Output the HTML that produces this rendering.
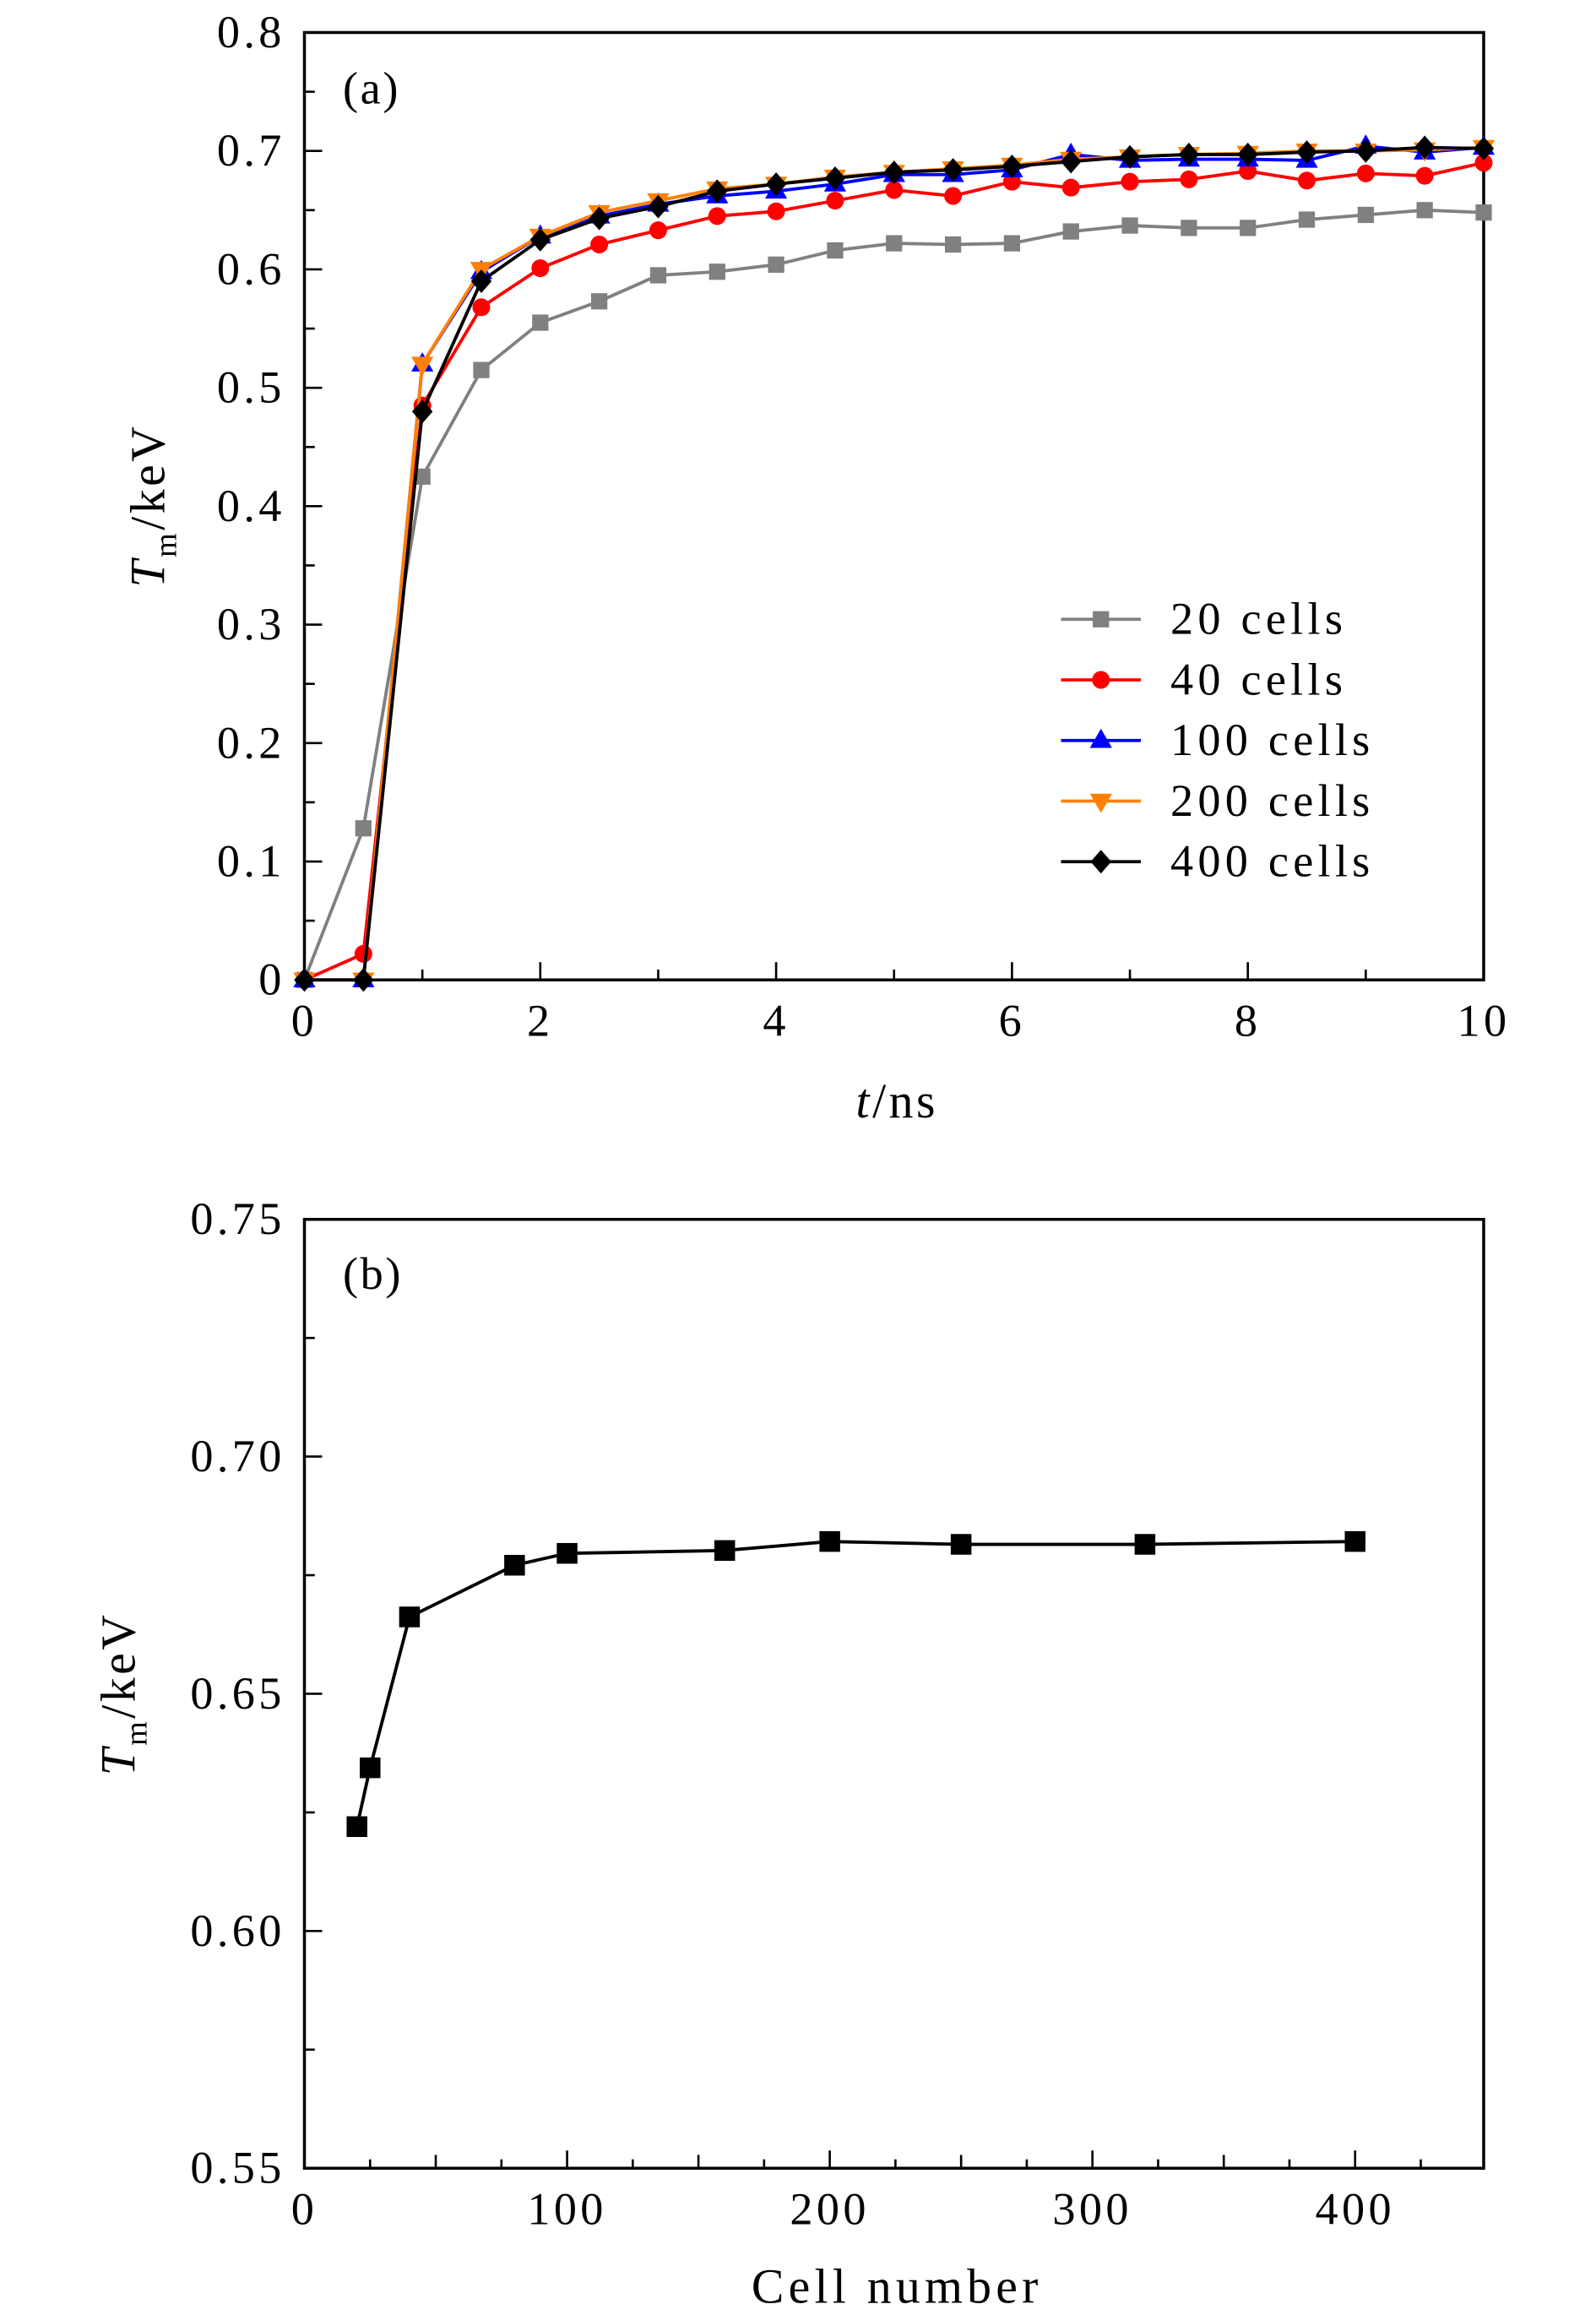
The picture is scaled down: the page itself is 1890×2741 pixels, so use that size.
<!DOCTYPE html>
<html><head><meta charset="utf-8"><style>
html,body{margin:0;padding:0;background:#fff}
svg{display:block}
text{font-family:"Liberation Serif",serif;fill:#000}
</style></head><body>
<svg id="chart" width="1890" height="2741" viewBox="0 0 1080 1566.3" xmlns="http://www.w3.org/2000/svg"></svg>
<script>
// Panel (a) data
const tA = [0,0.5,1,1.5,2,2.5,3,3.5,4,4.5,5,5.5,6,6.5,7,7.5,8,8.5,9,9.5,10];
const s20 = [0,0.128,0.425,0.515,0.555,0.573,0.595,0.598,0.604,0.616,0.622,0.621,0.622,0.632,0.637,0.635,0.635,0.642,0.646,0.650,0.648];
const s40 = [0,0.022,0.485,0.568,0.601,0.621,0.633,0.645,0.649,0.658,0.667,0.662,0.674,0.669,0.674,0.676,0.683,0.675,0.681,0.679,0.690];
const s100 = [0,0,0.52,0.598,0.628,0.645,0.655,0.662,0.666,0.672,0.680,0.680,0.684,0.697,0.692,0.693,0.693,0.692,0.704,0.699,0.703];
const s200 = [0,0,0.52,0.600,0.628,0.648,0.658,0.668,0.672,0.678,0.682,0.685,0.688,0.693,0.695,0.697,0.698,0.700,0.700,0.701,0.703];
const s400 = [0,0,0.48,0.590,0.625,0.643,0.653,0.666,0.672,0.677,0.682,0.684,0.687,0.691,0.695,0.697,0.697,0.699,0.700,0.703,0.702];
const seriesNames = ["20 cells","40 cells","100 cells","200 cells","400 cells"];
const xTicksA = [0,2,4,6,8,10];
const yTicksA = [0,0.1,0.2,0.3,0.4,0.5,0.6,0.7,0.8];
// Panel (b) data
const cells = [20,25,40,80,100,160,200,250,320,400];
const tmB = [0.622,0.6344,0.6662,0.6771,0.6796,0.6802,0.6821,0.6815,0.6815,0.6821];
const xTicksB = [0,100,200,300,400];
const yTicksB = [0.55,0.60,0.65,0.70,0.75];

const NS="http://www.w3.org/2000/svg";
const svg=document.getElementById('chart');
function mk(tag,attrs,parent){const e=document.createElementNS(NS,tag);for(const k in attrs)e.setAttribute(k,attrs[k]);(parent||svg).appendChild(e);return e;}
const FS=31, LS=2.5;

// Panel A axes
const L=206,R=1004;
const ax=t=>L+(t-0)/(10-0)*(R-L);
const ayA=v=>663-(v-0)/(0.8)*(663-22);
const gA=mk('g',{});


const boxA=mk('rect',{x:L,y:22,width:R-L,height:641,fill:'none',stroke:'#000','stroke-width':2},gA);


for(let t=0;t<=10;t+=1){const x=ax(t);const len=(t%2===0)?12:7;mk('line',{x1:x,y1:663,x2:x,y2:663-len,stroke:'#000','stroke-width':1.5},gA);}
for(let i=0;i<=16;i++){const v=i*0.05;const y=ayA(v);const len=(i%2===0)?12:7;mk('line',{x1:L,y1:y,x2:L+len,y2:y,stroke:'#000','stroke-width':1.5},gA);}
xTicksA.forEach(t=>{const e=mk('text',{x:ax(t),y:701,'font-size':FS,'letter-spacing':LS,'text-anchor':'middle'},gA);e.textContent=String(t);

});
yTicksA.forEach(v=>{const e=mk('text',{x:193,y:ayA(v)+10,'font-size':FS,'letter-spacing':LS,'text-anchor':'end'},gA);e.textContent=v===0?'0':v.toFixed(1);

});
let lab=mk('text',{x:232,y:70,'font-size':FS,'letter-spacing':1.5},gA);lab.textContent='(a)';


let xt=mk('text',{x:607,y:756,'font-size':33,'letter-spacing':2,'text-anchor':'middle'},gA);


xt.innerHTML='<tspan font-style="italic">t</tspan>/ns';
let yt=mk('text',{x:0,y:0,'font-size':33,'letter-spacing':2,'text-anchor':'middle',transform:'translate(111,342) rotate(-90)'},gA);


yt.innerHTML='<tspan font-style="italic">T</tspan><tspan font-size="21" dy="8">m</tspan><tspan dy="-8">/keV</tspan>';

function marker(type,x,y,color,parent){
 let e;
 if(type==='sq')e=mk('rect',{x:x-5.5,y:y-5.5,width:11,height:11,fill:color},parent);
 else if(type==='circ')e=mk('circle',{cx:x,cy:y,r:6,fill:color},parent);
 else if(type==='up')e=mk('polygon',{points:`${x},${y-8} ${x-7.5},${y+5} ${x+7.5},${y+5}`,fill:color},parent);
 else if(type==='down')e=mk('polygon',{points:`${x},${y+8} ${x-7.5},${y-5} ${x+7.5},${y-5}`,fill:color},parent);
 else e=mk('polygon',{points:`${x},${y-8} ${x+7},${y} ${x},${y+8} ${x-7},${y}`,fill:color},parent);
 
 
}
const seriesA=[[s20,'#808080','sq'],[s40,'#ff0000','circ'],[s100,'#0000ff','up'],[s200,'#ff8000','down'],[s400,'#000000','dia']];
seriesA.forEach((s,i)=>{
 const g=mk('g',{},gA);
 
 
 mk('polyline',{points:tA.map((t,j)=>ax(t)+','+ayA(s[0][j])).join(' '),fill:'none',stroke:s[1],'stroke-width':2.2},g);
 tA.forEach((t,j)=>marker(s[2],ax(t),ayA(s[0][j]),s[1],g));
 const ly=419+i*41;
 const lg=mk('g',{},gA);
 
 
 mk('line',{x1:718,y1:ly,x2:772,y2:ly,stroke:s[1],'stroke-width':2.2},lg);
 marker(s[2],745,ly,s[1],lg);
 const tx=mk('text',{x:792,y:ly+10,'font-size':FS,'letter-spacing':3},lg);tx.textContent=seriesNames[i];
});

// Panel B
const bx=c=>206+c*(917-206)/400;
const byB=v=>1467-(v-0.55)/0.2*(1467-825);
const gB=mk('g',{});


const boxB=mk('rect',{x:L,y:825,width:R-L,height:642,fill:'none',stroke:'#000','stroke-width':2},gB);


for(let c=0;c<=449;c+=25){const x=bx(c);const len=(c%100===0)?12:(c%50===0?9:6);mk('line',{x1:x,y1:1467,x2:x,y2:1467-len,stroke:'#000','stroke-width':1.5},gB);}
for(let i=0;i<=8;i++){const v=0.55+i*0.025;const y=byB(v);const len=(i%2===0)?12:7;mk('line',{x1:L,y1:y,x2:L+len,y2:y,stroke:'#000','stroke-width':1.5},gB);}
xTicksB.forEach(c=>{const e=mk('text',{x:bx(c),y:1505,'font-size':FS,'letter-spacing':LS,'text-anchor':'middle'},gB);e.textContent=String(c);

});
yTicksB.forEach(v=>{const e=mk('text',{x:193,y:byB(v)+10,'font-size':FS,'letter-spacing':LS,'text-anchor':'end'},gB);e.textContent=v.toFixed(2);

});
lab=mk('text',{x:232,y:872,'font-size':FS,'letter-spacing':1.5},gB);lab.textContent='(b)';


xt=mk('text',{x:607,y:1558,'font-size':33,'letter-spacing':3,'text-anchor':'middle'},gB);xt.textContent='Cell number';


yt=mk('text',{x:0,y:0,'font-size':33,'letter-spacing':2,'text-anchor':'middle',transform:'translate(91,1146) rotate(-90)'},gB);


yt.innerHTML='<tspan font-style="italic">T</tspan><tspan font-size="21" dy="8">m</tspan><tspan dy="-8">/keV</tspan>';
const gs=mk('g',{},gB);


mk('polyline',{points:cells.map((c,j)=>bx(c)+','+byB(tmB[j])).join(' '),fill:'none',stroke:'#000','stroke-width':2.2},gs);
cells.forEach((c,j)=>{const e=mk('rect',{x:bx(c)-7,y:byB(tmB[j])-7,width:14,height:14,fill:'#000'},gs);

});
</script>
</body></html>
